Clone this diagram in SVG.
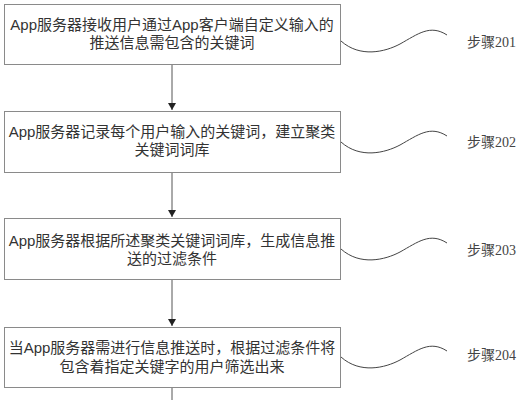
<svg xmlns="http://www.w3.org/2000/svg" width="525" height="400" viewBox="0 0 525 400">
<style>
.box{fill:#fff;stroke:#8a8a8a;stroke-width:1}
.t{font-family:"Liberation Sans","Noto Sans CJK SC",sans-serif;font-size:15px;fill:#333;text-anchor:middle}
.lbl{font-family:"Liberation Serif","Noto Sans CJK SC",serif;font-size:14px;fill:#444}
.wave{fill:none;stroke:#444;stroke-width:1}
.conn{stroke:#555;stroke-width:1;fill:none}
</style>
<defs>
<marker id="ah" markerWidth="8" markerHeight="8" refX="7" refY="4" orient="auto" markerUnits="userSpaceOnUse">
<path d="M0,0 L7,4 L0,8 Z" fill="#222"/>
</marker>
<path id="wv" class="wave" d="M341,41 C360,58 385,52 400,44 C418,34 430,24 447,35"/>
</defs>
<rect width="525" height="400" fill="#fff"/>
<g id="connectors">
<line class="conn" x1="172" y1="64" x2="172" y2="110" marker-end="url(#ah)"/>
<line class="conn" x1="172" y1="173" x2="172" y2="217" marker-end="url(#ah)"/>
<line class="conn" x1="172" y1="280" x2="172" y2="326" marker-end="url(#ah)"/>
<line class="conn" x1="172" y1="387" x2="172" y2="400"/>
<use href="#wv"/>
<use href="#wv" transform="translate(0,101)"/>
<use href="#wv" transform="translate(0,208)"/>
<use href="#wv" transform="translate(0,316)"/>
</g>
<g id="node1">
<rect class="box" x="4.5" y="4.5" width="336" height="60"/>
<text class="t" x="172" y="30">App服务器接收用户通过App客户端自定义输入的</text>
<text class="t" x="172" y="48">推送信息需包含的关键词</text>
</g>
<g id="node2">
<rect class="box" x="4.5" y="111.5" width="336" height="61"/>
<text class="t" x="172" y="137">App服务器记录每个用户输入的关键词，建立聚类</text>
<text class="t" x="172" y="155">关键词词库</text>
</g>
<g id="node3">
<rect class="box" x="4.5" y="218.5" width="336" height="61"/>
<text class="t" x="172" y="246">App服务器根据所述聚类关键词词库，生成信息推</text>
<text class="t" x="172" y="264">送的过滤条件</text>
</g>
<g id="node4">
<rect class="box" x="4.5" y="327.5" width="336" height="60"/>
<text class="t" x="172" y="353">当App服务器需进行信息推送时，根据过滤条件将</text>
<text class="t" x="172" y="372">包含着指定关键字的用户筛选出来</text>
</g>
<g id="labels">
<text class="lbl" x="467" y="47">步骤201</text>
<text class="lbl" x="467" y="147">步骤202</text>
<text class="lbl" x="467" y="255">步骤203</text>
<text class="lbl" x="467" y="360">步骤204</text>
</g>
</svg>
